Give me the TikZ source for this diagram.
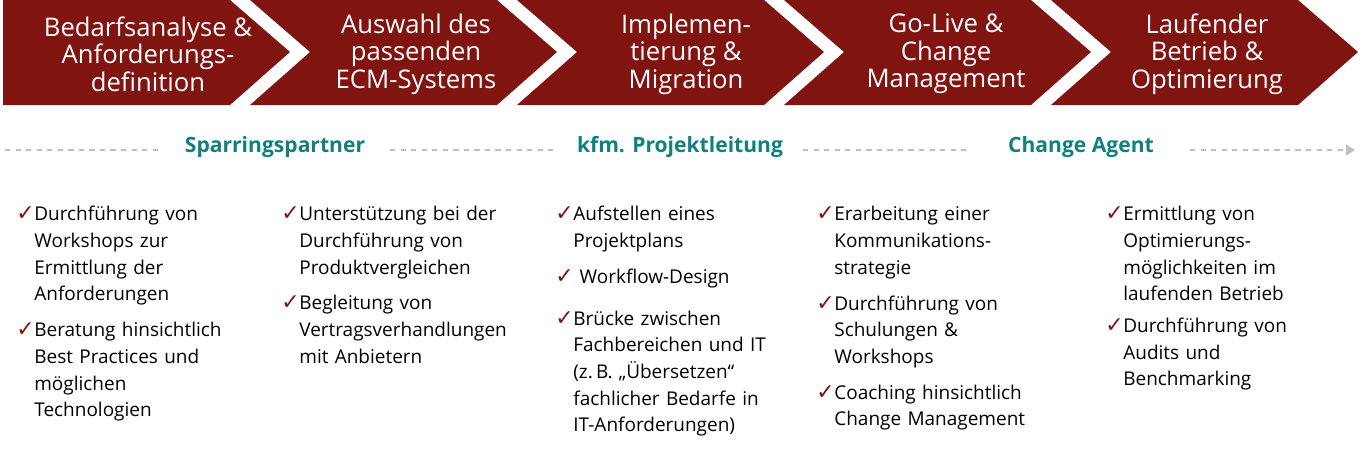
\documentclass[tikz,border=0pt]{standalone}
\usepackage{fontspec}
\setmainfont{Open Sans}
\newfontfamily\symfont{DejaVu Sans}
\usetikzlibrary{arrows.meta}
\definecolor{ecmred}{RGB}{128,20,16}
\definecolor{roleteal}{RGB}{16,128,128}
\definecolor{dashgray}{RGB}{190,190,190}
\newlength{\pxu}\setlength{\pxu}{0.02cm}
\newcommand{\chk}[1]{\noindent\makebox[18\pxu][l]{\symfont\color{ecmred}\fontsize{12.5}{15}\selectfont ✓}\parbox[t]{\dimexpr\linewidth-18\pxu\relax}{\raggedright #1}\par\vspace{15\pxu}}
\tikzset{
  phase/.style={fill=ecmred, draw=none},
  phasetext/.style={text=white, align=center, font=\fontsize{14.6}{15.6}\selectfont},
  role/.style={text=roleteal, font=\fontsize{12}{15}\selectfont\bfseries},
  roleline/.style={dashgray, dashed, line width=1.2pt},
  items/.style={anchor=north west, align=left, inner sep=0pt, font=\fontsize{10.8}{15.2}\selectfont, text width=#1}
}
\begin{document}
\begin{tikzpicture}[x=0.02cm,y=-0.02cm]
\useasboundingbox (0,0) rectangle (1366,464);
%phases
\fill[phase] (3,0) -- (230,0) -- (290,52) -- (230,105) -- (3,105) -- cycle;
\foreach \t in {557,824,1091,1358}{
  \fill[phase] (\t-307,0) -- (\t-60,0) -- (\t,52) -- (\t-60,105) -- (\t-307,105) -- (\t-247,52) -- cycle;
}
\node[phasetext] (p1) at (148,54) {Bedarfsanalyse \&\\Anforderungs-\\definition};
\node[phasetext] (p2) at (416,54) {Auswahl des\\passenden\\ECM-Systems};
\node[phasetext] (p3) at (686,54) {Implemen-\\tierung \&\\Migration};
\node[phasetext] (p4) at (946,54) {Go-Live \&\\Change\\Management};
\node[phasetext] (p5) at (1207,54) {Laufender\\Betrieb \&\\Optimierung};
%roles
\node[role] (r1) at (275,147) {Sparringspartner};
\node[role] (r2) at (680,147) {kfm. Projektleitung};
\node[role] (r3) at (1081,147) {Change Agent};
\draw[roleline] (5,150) -- (160,150);
\draw[roleline] (390,150) -- (555,150);
\draw[roleline] (803,150) -- (970,150);
\draw[roleline, -{Triangle[length=5pt,width=6pt]}] (1190,150) -- (1355,150);
%items
\node[items=250\pxu] (c1) at (16,206) {%
\chk{Durchführung von\\Workshops zur\\Ermittlung der\\Anforderungen}
\chk{Beratung hinsichtlich\\Best Practices und\\möglichen\\Technologien}};
\node[items=260\pxu] (c2) at (281,206) {%
\chk{Unterstützung bei der\\Durchführung von\\Produktvergleichen}
\chk{Begleitung von\\Vertragsverhandlungen\\mit Anbietern}};
\node[items=240\pxu] (c3) at (555,206) {%
\chk{Aufstellen eines\\Projektplans}
\chk{\ Workflow-Design}
\chk{Brücke zwischen\\Fachbereichen und IT\\(z.\,B. „Übersetzen“\\fachlicher Bedarfe in\\IT-Anforderungen)}};
\node[items=250\pxu] (c4) at (816,206) {%
\chk{Erarbeitung einer\\Kommunikations-\\strategie}
\chk{Durchführung von\\Schulungen \&\\Workshops}
\chk{Coaching hinsichtlich\\Change Management}};
\node[items=240\pxu] (c5) at (1105,206) {%
\chk{Ermittlung von\\Optimierungs-\\möglichkeiten im\\laufenden Betrieb}
\chk{Durchführung von\\Audits und\\Benchmarking}};
\end{tikzpicture}
\end{document}
